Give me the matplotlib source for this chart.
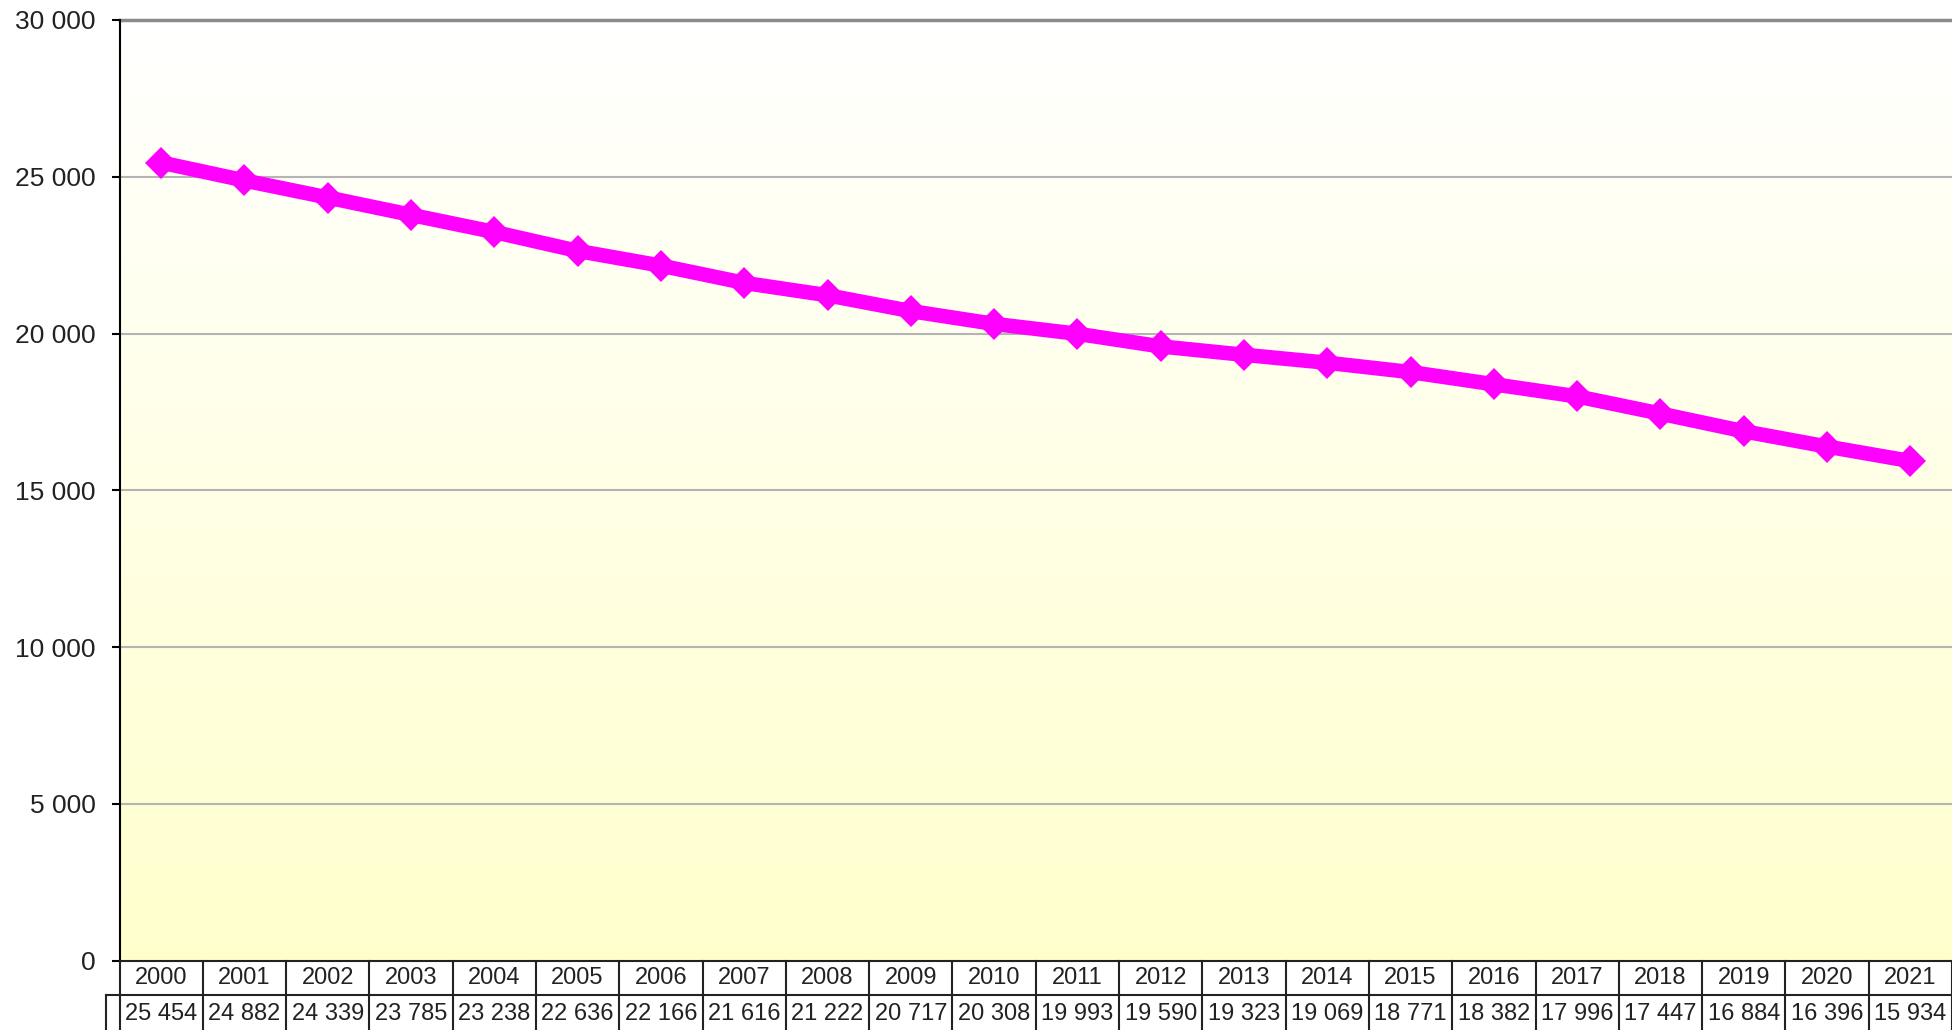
import matplotlib.pyplot as plt
import numpy as np

plt.rcParams['font.family'] = ['Liberation Sans', 'DejaVu Sans']

annees = [2000, 2001, 2002, 2003, 2004, 2005, 2006, 2007, 2008, 2009, 2010,
          2011, 2012, 2013, 2014, 2015, 2016, 2017, 2018, 2019, 2020, 2021]
valeurs = [25454, 24882, 24339, 23785, 23238, 22636, 22166, 21616, 21222, 20717, 20308,
           19993, 19590, 19323, 19069, 18771, 18382, 17996, 17447, 16884, 16396, 15934]
graduations = [0, 5000, 10000, 15000, 20000, 25000, 30000]


def fmt(v):
    return f"{v:,}".replace(",", " ")


W, H = 1952, 1030
fig = plt.figure(figsize=(W / 100, H / 100), dpi=100)
fig.patch.set_facecolor("white")

# zone de tracé (en pixels)
x0, y_haut, y_bas = 119.5, 20, 960.7
ax = fig.add_axes([x0 / W, 1 - y_bas / H, (W - x0) / W, (y_bas - y_haut) / H])

n = len(annees)
x = np.arange(n)
ax.set_xlim(-0.5, n - 0.5)
ax.set_ylim(graduations[0], graduations[-1])

# fond en dégradé blanc -> jaune pâle
haut = np.array([1.0, 1.0, 1.0])
bas = np.array([1.0, 1.0, 0.80])
t = np.linspace(0, 1, 256)[:, None]
grad = (haut * (1 - t) + bas * t)[:, None, :]
ax.imshow(grad, extent=(-0.5, n - 0.5, graduations[0], graduations[-1]),
          aspect="auto", zorder=0, origin="upper")

# grille
for g in graduations[1:-1]:
    ax.axhline(g, color="#b4b4b4", lw=1.5, zorder=1)
ax.axhline(graduations[-1], color="#8a8a8a", lw=2.5, zorder=1, clip_on=False)

ax.plot(x, valeurs, color="#ff00ff", lw=10.5, marker="D", ms=16,
        markeredgewidth=0, zorder=3, solid_joinstyle="round")

for s in ["top", "right", "bottom"]:
    ax.spines[s].set_visible(False)
ax.spines["left"].set_color("black")
ax.spines["left"].set_linewidth(1.5)

ax.set_xticks([])
ax.set_yticks(graduations)
ax.set_yticklabels([fmt(g) for g in graduations], fontsize=19, color="#222222")
ax.tick_params(axis="y", length=6, width=1.5, pad=11, color="black")

# tableau de données sous le graphique
ph = y_bas - y_haut
def fy(py):
    # pixel -> fraction d'axe
    return (y_bas - py) / ph

trans = ax.get_xaxis_transform()
ligne = dict(color="#222222", lw=1.5, clip_on=False, transform=trans, zorder=5)
r1_bas, r2_bas = 995, 1040
xl = -0.5 - 13.8 / ((W - x0) / n)
ax.plot([-0.5, n - 0.5], [fy(y_bas), fy(y_bas)], **ligne)
ax.plot([xl, n - 0.5], [fy(r1_bas), fy(r1_bas)], **ligne)
for i in range(n + 1):
    ax.plot([i - 0.5, i - 0.5], [fy(y_bas), fy(r2_bas)], **ligne)
# case vide de la légende à gauche
ax.plot([xl, xl], [fy(r1_bas), fy(r2_bas)], **ligne)

for i, (a, v) in enumerate(zip(annees, valeurs)):
    ax.text(i, fy(978), str(a), transform=trans, ha="center", va="center",
            fontsize=17, color="#222222", clip_on=False)
    ax.text(i, fy(1014), fmt(v), transform=trans, ha="center", va="center",
            fontsize=17, color="#222222", clip_on=False)

fig.savefig("out.png", dpi=100)
